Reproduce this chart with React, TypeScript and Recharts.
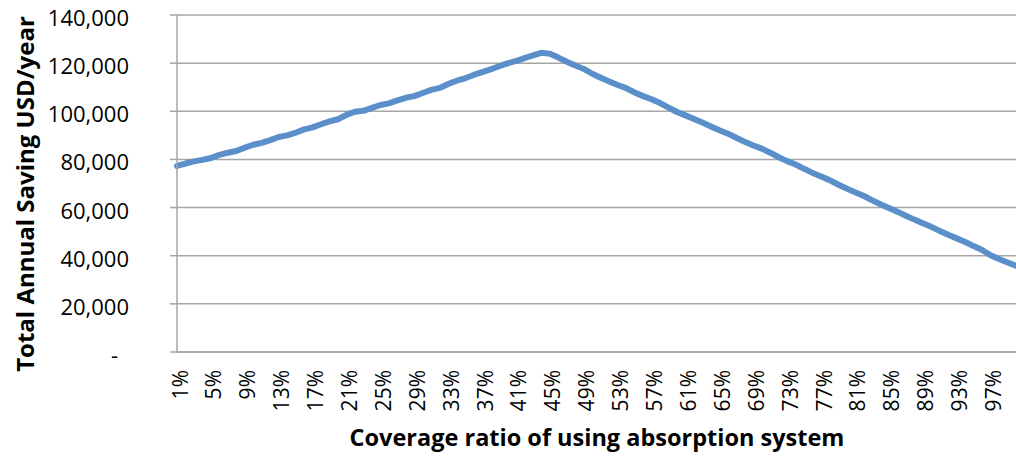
import React from 'react';
import { LineChart, Line, XAxis, YAxis, CartesianGrid, Label } from 'recharts';

// Coverage ratio categories, 1% .. 100%
const coverage: string[] = Array.from({ length: 100 }, (_, i) => `${i + 1}%`);

// Total annual saving (USD/year) for each coverage ratio
const saving: number[] = [
  77300, 78300, 79200, 79800, 80600, 81900, 82800, 83500, 84900, 86100,
  86900, 88000, 89300, 90000, 91100, 92500, 93300, 94600, 95800, 96700,
  98500, 99800, 100200, 101400, 102600, 103300, 104500, 105600, 106300, 107600,
  108900, 109700, 111300, 112700, 113700, 115100, 116300, 117400, 118700, 119900,
  120900, 122100, 123200, 124300, 123900, 122300, 120600, 119000, 117600, 115600,
  113900, 112400, 110900, 109600, 107800, 106300, 105000, 103400, 101500, 99700,
  98300, 96800, 95300, 93700, 92100, 90700, 89000, 87300, 85800, 84500,
  82800, 80900, 79300, 77900, 76100, 74400, 72900, 71400, 69600, 67900,
  66400, 64900, 63100, 61400, 59800, 58300, 56600, 55000, 53500, 52000,
  50300, 48700, 47200, 45700, 44000, 42400, 40200, 38600, 37200, 35800,
];

const yTicks: number[] = [0, 20000, 40000, 60000, 80000, 100000, 120000, 140000];

const yTitle = 'Total Annual Saving USD/year';
const xTitle = 'Coverage ratio of using absorption system';

const data = coverage.map((c, i) => ({ coverage: c, saving: saving[i] }));

const FONT = "'Open Sans', sans-serif";
const GRID = '#a6a6a6';
const LINE = '#5a8fc9';

function YTick(props: any) {
  const { x, y, payload } = props;
  const v = payload.value as number;
  const text = v === 0 ? '-' : v.toLocaleString('en-US');
  return (
    <text
      x={x}
      y={y}
      dx={v === 0 ? -50 : -39}
      dy={11}
      textAnchor="end"
      fontFamily={FONT}
      fontSize={22}
      fill="#000"
    >
      {text}
    </text>
  );
}

function XTick(props: any) {
  const { x, y, payload } = props;
  return (
    <g transform={`translate(${x},${y})`}>
      <text
        transform="rotate(-90)"
        x={-18}
        y={0}
        dy={10.5}
        textAnchor="end"
        fontFamily={FONT}
        fontSize={21}
        fill="#000"
      >
        {payload.value}
      </text>
    </g>
  );
}

export default function App() {
  return (
    <div style={{ position: 'absolute', left: 0, top: 0, background: '#fff' }}>
      <LineChart
        width={1016}
        height={457}
        data={data}
        margin={{ top: 15, right: 0, bottom: 0, left: 0 }}
      >
        <CartesianGrid horizontal vertical={false} stroke={GRID} strokeWidth={1.5} />
        <XAxis
          dataKey="coverage"
          interval={3}
          height={105}
          tickLine={false}
          tickSize={0}
          tickMargin={0}
          axisLine={{ stroke: GRID, strokeWidth: 1.5 }}
          tick={<XTick />}
        >
          <Label
            content={() => (
              <text
                x={597}
                y={446}
                textAnchor="middle"
                fontFamily={FONT}
                fontWeight="bold"
                fontSize={23.5}
                fill="#000"
              >
                {xTitle}
              </text>
            )}
          />
        </XAxis>
        <YAxis
          width={177}
          domain={[0, 140000]}
          ticks={yTicks}
          interval={0}
          tickSize={7}
          tickMargin={2}
          tickLine={{ stroke: GRID, strokeWidth: 1.5 }}
          axisLine={{ stroke: GRID, strokeWidth: 1.5 }}
          tick={<YTick />}
        >
          <Label
            content={() => (
              <text
                x={24}
                y={194}
                transform="rotate(-90, 24, 194)"
                textAnchor="middle"
                dominantBaseline="central"
                fontFamily={FONT}
                fontWeight="bold"
                fontSize={24}
                fill="#000"
              >
                {yTitle}
              </text>
            )}
          />
        </YAxis>
        <Line
          type="linear"
          dataKey="saving"
          stroke={LINE}
          strokeWidth={6}
          strokeLinecap="round"
          strokeLinejoin="round"
          dot={false}
          activeDot={false}
          isAnimationActive={false}
        />
      </LineChart>
    </div>
  );
}
